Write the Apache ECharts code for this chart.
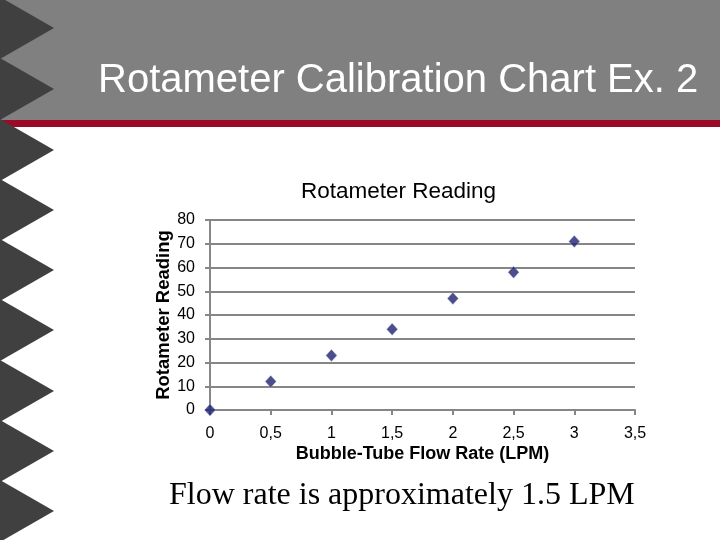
<!DOCTYPE html>
<html>
<head>
<meta charset="utf-8">
<script src="https://cdn.jsdelivr.net/npm/echarts@6/dist/echarts.min.js"></script>
<style>
html,body{margin:0;padding:0;background:#fff;}
#chart{width:720px;height:540px;}
</style>
</head>
<body>
<div id="chart"></div>
<script>
// Data
var flowRates = [0, 0.5, 1, 1.5, 2, 2.5, 3];
var readings = [0, 12, 23, 34, 47, 58, 71];
var slideTitle = 'Rotameter Calibration Chart Ex. 2';
var chartTitle = 'Rotameter Reading';
var xAxisName = 'Bubble-Tube Flow Rate (LPM)';
var yAxisName = 'Rotameter Reading';
var footnote = 'Flow rate is approximately 1.5 LPM';

var points = flowRates.map(function (x, i) { return [x, readings[i]]; });

// decorative sawtooth on left edge
var triTips = [28, 89, 150, 210, 270, 330, 391, 451, 511];
var deco = [
  { type: 'rect', shape: { x: 0, y: 0, width: 720, height: 120 }, style: { fill: '#808080' }, z: -10 },
  { type: 'rect', shape: { x: 0, y: 120, width: 720, height: 7 }, style: { fill: '#9c0a2a' }, z: -9 }
];
triTips.forEach(function (t) {
  deco.push({ type: 'polygon', shape: { points: [[0, t - 31], [54, t], [0, t + 31]] }, style: { fill: '#404040' }, z: -5 });
});

var chart = echarts.init(document.getElementById('chart'), null, { renderer: 'canvas' });
chart.setOption({
  backgroundColor: '#ffffff',
  animation: false,
  graphic: deco,
  title: [
    { text: slideTitle, left: 98, top: 61, padding: 0, textStyle: { color: '#ffffff', fontFamily: 'Liberation Sans', fontWeight: 'normal', fontSize: 40 } },
    { text: chartTitle, left: 301, top: 180, padding: 0, textStyle: { color: '#000', fontFamily: 'Liberation Sans', fontWeight: 'normal', fontSize: 22.5 } },
    { text: footnote, left: 169, top: 480, padding: 0, textStyle: { color: '#000', fontFamily: 'Liberation Serif', fontWeight: 'normal', fontSize: 32 } }
  ],
  grid: { left: 210, top: 220, right: 85, bottom: 130, containLabel: false },
  xAxis: {
    type: 'value', min: 0, max: 3.5, interval: 0.5,
    name: xAxisName, nameLocation: 'middle', nameGap: 35, nameMoveOverlap: false,
    nameTextStyle: { color: '#000', fontFamily: 'Liberation Sans', fontWeight: 'bold', fontSize: 18 },
    axisLine: { show: true, lineStyle: { color: '#868686', width: 2 } },
    axisTick: { show: true, length: 5, lineStyle: { color: '#868686', width: 2 } },
    splitLine: { show: false },
    axisLabel: { color: '#000', fontFamily: 'Liberation Sans', fontSize: 16, margin: 16,
      formatter: function (v) { return String(v).replace('.', ','); } }
  },
  yAxis: {
    type: 'value', min: 0, max: 80, interval: 10,
    name: yAxisName, nameLocation: 'middle', nameGap: 37, nameRotate: 90, nameMoveOverlap: false,
    nameTextStyle: { color: '#000', fontFamily: 'Liberation Sans', fontWeight: 'bold', fontSize: 18.5 },
    axisLine: { show: true, lineStyle: { color: '#868686', width: 2 } },
    axisTick: { show: true, length: 5, lineStyle: { color: '#868686', width: 2 } },
    splitLine: { show: true, lineStyle: { color: '#868686', width: 2 } },
    axisLabel: { color: '#000', fontFamily: 'Liberation Sans', fontSize: 16, margin: 15 }
  },
  series: [{
    type: 'scatter',
    data: points,
    symbol: 'diamond',
    symbolSize: [11, 12],
    itemStyle: { color: '#1e2270', borderColor: '#b8b8d8', borderWidth: 0.5 },
    clip: false
  }]
});
</script>
</body>
</html>
